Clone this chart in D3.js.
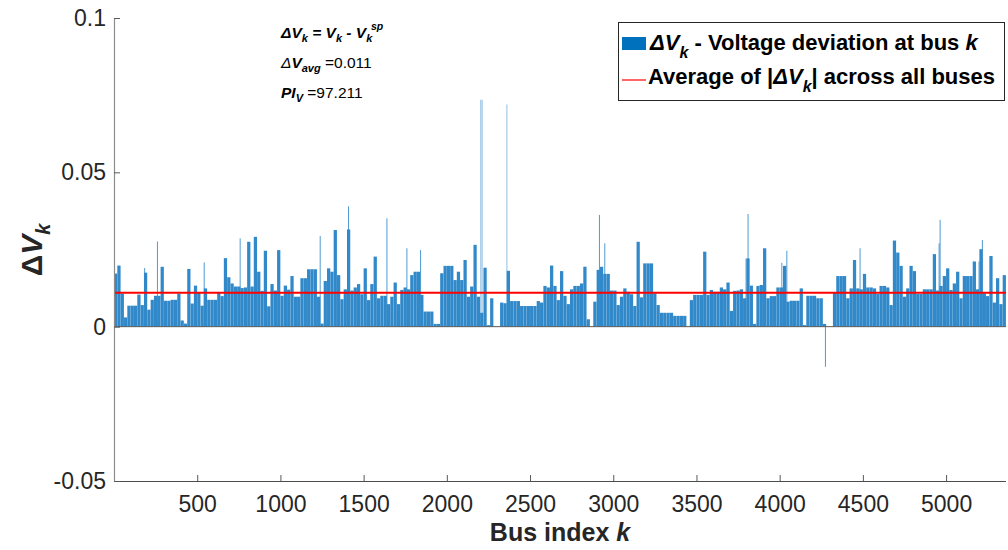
<!DOCTYPE html>
<html>
<head>
<meta charset="utf-8">
<script src="https://cdn.jsdelivr.net/npm/d3@7"></script>
<style>
  body { margin: 0; background: #fff; }
  text { font-family: "Liberation Sans", Arial, sans-serif; }
</style>
</head>
<body>
<div id="chart"></div>
<script>
// bus blocks of 20 buses each
var blockSize = 20;
var nBus = 5360;
var dv = [
  0.0172, 0.0198, 0.0107, 0.0030, 0.0068, 0.0068, 0.0068, 0.0104, 0.0070, 0.0175,
  0.0055, 0.0087, 0.0100, 0.0100, 0.0194, 0.0084, 0.0084, 0.0087, 0.0087, 0.0107,
  0.0020, 0.0010, 0.0187, 0.0075, 0.0133, 0.0110, 0.0068, 0.0124, 0.0087, 0.0087,
  0.0087, 0.0109, 0.0099, 0.0222, 0.0160, 0.0140, 0.0130, 0.0130, 0.0125, 0.0127,
  0.0275, 0.0130, 0.0291, 0.0178, 0.0116, 0.0246, 0.0066, 0.0138, 0.0117, 0.0248,
  0.0100, 0.0133, 0.0120, 0.0164, 0.0097, 0.0097, 0.0157, 0.0157, 0.0186, 0.0186,
  0.0186, 0.0097, 0.0010, 0.0148, 0.0189, 0.0178, 0.0313, 0.0167, 0.0089, 0.0121,
  0.0315, 0.0117, 0.0127, 0.0138, 0.0105, 0.0189, 0.0086, 0.0138, 0.0227, 0.0092,
  0.0100, 0.0100, 0.0073, 0.0097, 0.0143, 0.0073, 0.0119, 0.0127, 0.0121, 0.0167,
  0.0178, 0.0178, 0.0103, 0.0049, 0.0049, 0.0049, 0.0009, 0.0009, 0.0173, 0.0197,
  0.0197, 0.0197, 0.0151, 0.0178, 0.0151, 0.0216, 0.0097, 0.0130, 0.0265, 0.0097,
  0.0045, 0.0191, 0.0005, 0.0092, 0.0000, 0.0000, 0.0078, 0.0076, 0.0181, 0.0083,
  0.0083, 0.0083, 0.0067, 0.0067, 0.0067, 0.0067, 0.0067, 0.0083, 0.0078, 0.0132,
  0.0127, 0.0198, 0.0132, 0.0086, 0.0180, 0.0100, 0.0073, 0.0121, 0.0132, 0.0132,
  0.0140, 0.0194, 0.0024, 0.0000, 0.0081, 0.0184, 0.0194, 0.0171, 0.0171, 0.0117,
  0.0117, 0.0070, 0.0097, 0.0124, 0.0113, 0.0105, 0.0067, 0.0275, 0.0095, 0.0205,
  0.0205, 0.0205, 0.0108, 0.0070, 0.0045, 0.0045, 0.0045, 0.0045, 0.0035, 0.0035,
  0.0035, 0.0035, 0.0000, 0.0086, 0.0103, 0.0103, 0.0103, 0.0243, 0.0103, 0.0119,
  0.0113, 0.0113, 0.0127, 0.0121, 0.0143, 0.0051, 0.0116, 0.0117, 0.0121, 0.0092,
  0.0221, 0.0133, 0.0009, 0.0132, 0.0135, 0.0254, 0.0092, 0.0099, 0.0099, 0.0127,
  0.0127, 0.0197, 0.0081, 0.0084, 0.0084, 0.0084, 0.0124, 0.0005, 0.0100, 0.0100,
  0.0100, 0.0092, 0.0092, 0.0009, 0.0000, 0.0000, 0.0110, 0.0164, 0.0164, 0.0164,
  0.0092, 0.0124, 0.0216, 0.0124, 0.0121, 0.0171, 0.0127, 0.0127, 0.0124, 0.0106,
  0.0132, 0.0132, 0.0127, 0.0070, 0.0279, 0.0240, 0.0197, 0.0097, 0.0124, 0.0197,
  0.0180, 0.0106, 0.0106, 0.0121, 0.0121, 0.0121, 0.0235, 0.0117, 0.0132, 0.0164,
  0.0189, 0.0119, 0.0140, 0.0178, 0.0092, 0.0164, 0.0164, 0.0164, 0.0211, 0.0121,
  0.0251, 0.0108, 0.0099, 0.0229, 0.0078, 0.0157, 0.0073, 0.0167
];

// narrow single-bus spikes
var spikeBus = [184, 261, 542, 758, 1239, 1409, 1640, 1760, 1842, 2204, 2212, 2361,
  2831, 2917, 2949, 3798, 3810, 4013, 4043, 4275, 4483, 4958, 4964, 5168, 5198, 5218];
var spikeVal = [0.0190, 0.0276, 0.0208, 0.0286, 0.0294, 0.0390, 0.0351, 0.0254, 0.0248, 0.0735, 0.0735, 0.0720,
  0.0194, 0.0362, 0.0270, 0.0221, 0.0365, 0.0207, 0.0246, -0.0130, 0.0254, 0.0270, 0.0346, 0.0211, 0.0211, 0.0281];

var avgDv = 0.011;
var xTicks = [500, 1000, 1500, 2000, 2500, 3000, 3500, 4000, 4500, 5000];
var yTicks = [-0.05, 0, 0.05, 0.1];
var yTickLabels = ["-0.05", "0", "0.05", "0.1"];

function init() {
  var w = 1008, h = 550;
  var left = 114, right = 1006, top = 18, bottom = 481;

  var svg = d3.select("#chart").append("svg")
    .attr("width", w).attr("height", h);

  var x = d3.scaleLinear().domain([0, nBus]).range([left, right]);
  var y = d3.scaleLinear().domain([-0.05, 0.1]).range([bottom, top]);

  var blue = "#3189c9";

  // blocks
  svg.append("g").selectAll("rect")
    .data(dv)
    .enter().append("rect")
    .attr("x", function(d, i) { return x(i * blockSize); })
    .attr("width", function(d, i) { return Math.max(0, x((i + 1) * blockSize) - x(i * blockSize) - 0.08); })
    .attr("y", function(d) { return y(Math.max(0, d)); })
    .attr("height", function(d) { return Math.abs(y(d) - y(0)); })
    .style("fill", blue);

  // spikes
  svg.append("g").selectAll("rect")
    .data(spikeBus)
    .enter().append("rect")
    .attr("x", function(d) { return x(d - 3); })
    .attr("width", function(d) { return x(d + 3) - x(d - 3); })
    .attr("y", function(d, i) { return y(Math.max(0, spikeVal[i])); })
    .attr("height", function(d, i) { return Math.abs(y(spikeVal[i]) - y(0)); })
    .style("fill", blue)
    .style("opacity", function(d, i) { return Math.abs(spikeVal[i]) > 0.05 ? 0.55 : 0.85; });

  // baseline at zero
  svg.append("line")
    .attr("x1", left).attr("x2", right)
    .attr("y1", y(0)).attr("y2", y(0))
    .style("stroke", "#5a5a5a").style("stroke-width", 1);

  // average line
  svg.append("line")
    .attr("x1", left).attr("x2", right)
    .attr("y1", y(avgDv)).attr("y2", y(avgDv))
    .style("stroke", "#ff0000").style("stroke-width", 2);

  // axes
  var xAxis = d3.axisBottom(x).tickValues(xTicks).tickSizeInner(-6).tickSizeOuter(0).tickPadding(15)
    .tickFormat(d3.format("d"));
  var gx = svg.append("g").attr("transform", "translate(0," + bottom + ")").call(xAxis);
  var yAxis = d3.axisLeft(y).tickValues(yTicks).tickSizeInner(-6).tickSizeOuter(0).tickPadding(8)
    .tickFormat(function(d, i) { return yTickLabels[i]; });
  var gy = svg.append("g").attr("transform", "translate(" + left + ",0)").call(yAxis);

  [gx, gy].forEach(function(g) {
    g.select(".domain").style("stroke", "#8c8c8c").style("stroke-width", 1.2);
    g.selectAll(".tick line").style("stroke", "#5a5a5a");
    g.selectAll(".tick text").style("font-size", "23px").style("fill", "#262626")
      .style("font-family", "Liberation Sans, Arial, sans-serif");
  });
  gx.select(".domain").attr("d", "M" + left + ",0.5H" + right).style("stroke", "#4d4d4d");

  // x title
  var xt = svg.append("text").attr("x", 560).attr("y", 541)
    .attr("text-anchor", "middle")
    .style("font-size", "25px").style("font-weight", "bold").style("fill", "#262626");
  xt.append("tspan").text("Bus index ");
  xt.append("tspan").style("font-style", "italic").text("k");

  // y title
  var yt = svg.append("text")
    .attr("transform", "translate(42,250) rotate(-90)")
    .attr("text-anchor", "middle")
    .style("font-size", "30px").style("font-weight", "bold").style("fill", "#262626");
  yt.append("tspan").text("\u0394");
  yt.append("tspan").style("font-style", "italic").text("V");
  yt.append("tspan").style("font-style", "italic").style("font-size", "20px").attr("dy", 8).text("k");

  // annotation block
  var ann = svg.append("g").style("font-size", "15.5px").style("fill", "#000");
  var a1 = ann.append("text").attr("x", 281).attr("y", 38).style("font-weight", "bold").style("font-style", "italic");
  a1.append("tspan").text("\u0394");
  a1.append("tspan").text("V");
  a1.append("tspan").attr("dy", 4).style("font-size", "11px").text("k");
  a1.append("tspan").attr("dy", -4).text(" = V");
  a1.append("tspan").attr("dy", 4).style("font-size", "11px").text("k");
  a1.append("tspan").attr("dy", -4).text(" - V");
  a1.append("tspan").attr("dy", 4).style("font-size", "11px").text("k");
  ann.append("text").attr("x", 371).attr("y", 30)
    .style("font-size", "10.5px").style("font-weight", "bold").style("font-style", "italic")
    .text("sp");

  var a2 = ann.append("text").attr("x", 281).attr("y", 68);
  a2.append("tspan").style("font-style", "italic").text("\u0394");
  a2.append("tspan").style("font-weight", "bold").style("font-style", "italic").text("V");
  a2.append("tspan").attr("dy", 4).style("font-size", "11px").style("font-weight", "bold").style("font-style", "italic").text("avg");
  a2.append("tspan").attr("dy", -4).text(" =0.011");

  var a3 = ann.append("text").attr("x", 281).attr("y", 98);
  a3.append("tspan").style("font-weight", "bold").style("font-style", "italic").text("PI");
  a3.append("tspan").attr("dy", 4).style("font-size", "11px").style("font-weight", "bold").style("font-style", "italic").text("V");
  a3.append("tspan").attr("dy", -4).text(" =97.211");

  // legend
  var lg = svg.append("g");
  lg.append("rect").attr("x", 618.5).attr("y", 22.5).attr("width", 386).attr("height", 78)
    .style("fill", "#fff").style("stroke", "#262626").style("stroke-width", 1);
  lg.append("rect").attr("x", 622).attr("y", 37).attr("width", 24).attr("height", 13)
    .style("fill", "#0072bd");
  lg.append("line").attr("x1", 622).attr("x2", 646).attr("y1", 80).attr("y2", 80)
    .style("stroke", "#ff0000").style("stroke-width", 1.2);

  var l1 = lg.append("text").attr("x", 650).attr("y", 50)
    .style("font-size", "22px").style("font-weight", "bold").style("fill", "#000");
  l1.append("tspan").style("font-style", "italic").text("\u0394");
  l1.append("tspan").style("font-style", "italic").text("V");
  l1.append("tspan").attr("dy", 8).style("font-style", "italic").style("font-size", "16px").text("k");
  l1.append("tspan").attr("dy", -8).text(" - Voltage deviation at bus  ");
  l1.append("tspan").style("font-style", "italic").text("k");

  var l2 = lg.append("text").attr("x", 648).attr("y", 84)
    .style("font-size", "22px").style("font-weight", "bold").style("fill", "#000");
  l2.append("tspan").text("Average of |");
  l2.append("tspan").style("font-style", "italic").text("\u0394V");
  l2.append("tspan").attr("dy", 8).style("font-style", "italic").style("font-size", "16px").text("k");
  l2.append("tspan").attr("dy", -8).text("| across all buses");
}
window.onload = init;
</script>
</body>
</html>
